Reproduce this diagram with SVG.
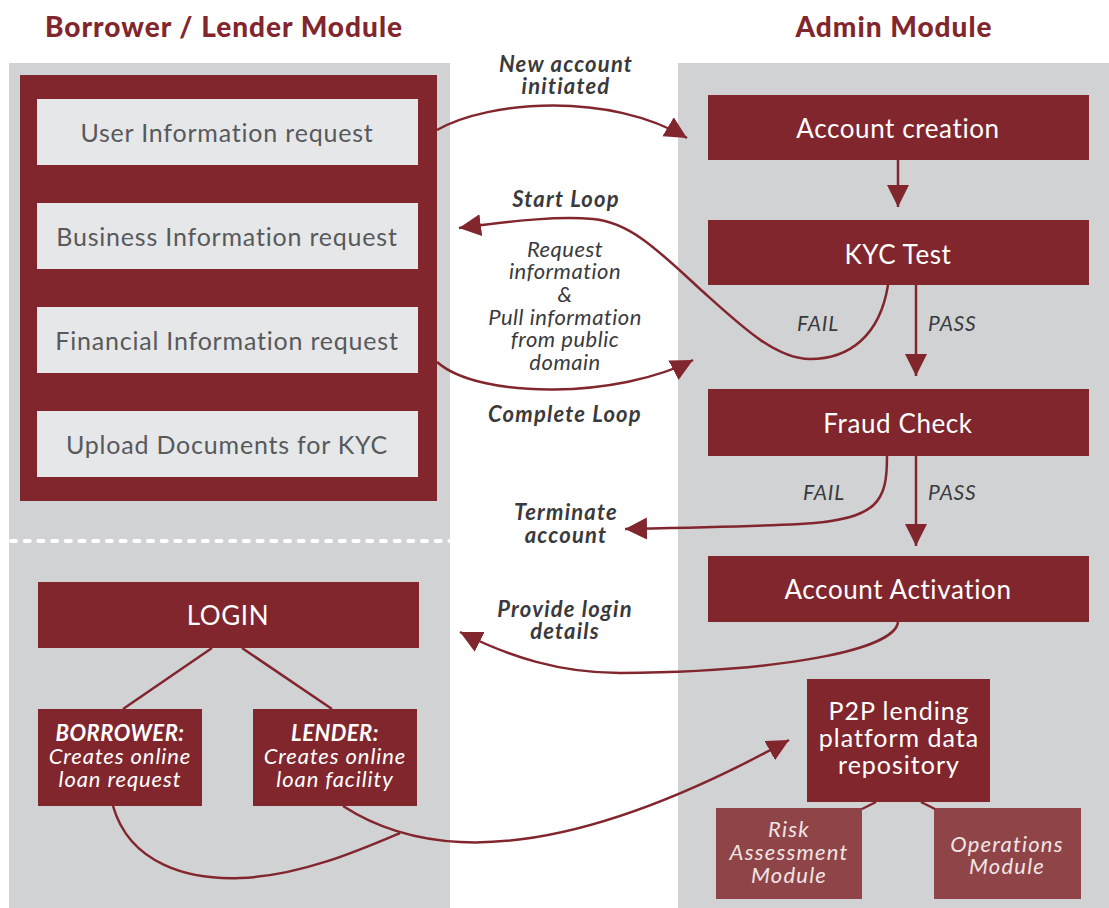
<svg xmlns="http://www.w3.org/2000/svg" width="1109" height="908" viewBox="0 0 1109 908">
<defs>
<style>
.panel{fill:#d1d2d4}
.red{fill:#82262e}
.light{fill:#e6e7e9}
.sub{fill:#8f4548}
.hdr{font-family:Lato,"Liberation Sans",sans-serif;font-weight:900;font-size:28px;letter-spacing:1px;fill:#82262e;text-anchor:middle}
.ltxt{font-family:Lato,"Liberation Sans",sans-serif;font-size:25px;letter-spacing:0.8px;fill:#58595b;text-anchor:middle}
.wtxt{font-family:Lato,"Liberation Sans",sans-serif;font-size:26px;letter-spacing:0.6px;fill:#ffffff;text-anchor:middle}
.ptxt{font-family:Lato,"Liberation Sans",sans-serif;font-size:25px;letter-spacing:1px;fill:#ffffff;text-anchor:middle}
.witl{font-family:Lato,"Liberation Sans",sans-serif;font-size:22px;letter-spacing:0.9px;font-style:italic;fill:#ffffff;text-anchor:middle}
.wbi{font-family:Lato,"Liberation Sans",sans-serif;font-size:22px;letter-spacing:0.5px;font-style:italic;font-weight:700;fill:#ffffff;text-anchor:middle}
.sitl{font-family:Lato,"Liberation Sans",sans-serif;font-size:22px;letter-spacing:1.2px;font-style:italic;fill:#f1e4e4;text-anchor:middle}
.lbl{font-family:Lato,"Liberation Sans",sans-serif;font-size:22px;letter-spacing:1.2px;font-style:italic;font-weight:700;fill:#3a3a3c;text-anchor:middle}
.itl{font-family:Lato,"Liberation Sans",sans-serif;font-size:22px;letter-spacing:0.5px;font-style:italic;fill:#3a3a3c;text-anchor:middle}
.fp{font-family:Lato,"Liberation Sans",sans-serif;font-size:21px;letter-spacing:0.8px;font-style:italic;fill:#3a3a3c}
.conn{fill:none;stroke:#82262e;stroke-width:2.5}
</style>
<marker id="ah" markerUnits="userSpaceOnUse" markerWidth="24" markerHeight="24" viewBox="0 0 24 24" refX="22" refY="11" orient="auto">
<path d="M0,0 L22,11 L0,22 z" fill="#82262e"/>
</marker>
</defs>
<rect width="1109" height="908" fill="#ffffff"/>
<g id="panels">
<rect class="panel" x="9" y="63" width="441" height="845"/>
<rect class="panel" x="678" y="63" width="431" height="845"/>
<line x1="11" y1="541" x2="450" y2="541" stroke="#ffffff" stroke-width="4" stroke-dasharray="5 8.7" stroke-linecap="round"/>
</g>
<g id="headers">
<text class="hdr" x="224" y="37">Borrower / Lender Module</text>
<text class="hdr" x="894" y="37">Admin Module</text>
</g>
<g id="borrower-lender-form">
<rect class="red" x="20" y="75" width="417" height="426"/>
</g>
<g id="user-info"><rect class="light" x="37" y="99" width="381" height="66"/><text class="ltxt" x="227" y="142">User Information request</text></g>
<g id="business-info"><rect class="light" x="37" y="203" width="381" height="66"/><text class="ltxt" x="227" y="246">Business Information request</text></g>
<g id="financial-info"><rect class="light" x="37" y="307" width="381" height="66"/><text class="ltxt" x="227" y="350">Financial Information request</text></g>
<g id="upload-docs"><rect class="light" x="37" y="411" width="381" height="66"/><text class="ltxt" x="227" y="454">Upload Documents for KYC</text></g>

<g id="account-creation"><rect class="red" x="708" y="95" width="381" height="65"/><text class="wtxt" x="898" y="138">Account creation</text></g>
<g id="kyc-test"><rect class="red" x="708" y="220" width="381" height="65"/><text class="wtxt" x="898" y="264">KYC Test</text></g>
<g id="fraud-check"><rect class="red" x="708" y="389" width="381" height="67"/><text class="wtxt" x="898" y="433">Fraud Check</text></g>
<g id="account-activation"><rect class="red" x="708" y="556" width="381" height="66"/><text class="wtxt" x="898" y="599">Account Activation</text></g>

<g id="login"><rect class="red" x="38" y="582" width="381" height="66"/><text class="wtxt" x="228" y="625">LOGIN</text></g>
<g id="borrower"><rect class="red" x="38" y="709" width="164" height="97"/>
<text class="wbi" x="120" y="741">BORROWER:</text>
<text class="witl" x="120" y="764">Creates online</text>
<text class="witl" x="120" y="787">loan request</text></g>
<g id="lender"><rect class="red" x="253" y="709" width="164" height="97"/>
<text class="wbi" x="335" y="741">LENDER:</text>
<text class="witl" x="335" y="764">Creates online</text>
<text class="witl" x="335" y="787">loan facility</text></g>

<g id="p2p-repository"><rect class="red" x="807" y="679" width="183" height="123"/>
<text class="ptxt" x="899" y="720">P2P lending</text>
<text class="ptxt" x="899" y="747">platform data</text>
<text class="ptxt" x="899" y="774">repository</text></g>
<g id="risk-assessment"><rect class="sub" x="716" y="808" width="146" height="91"/>
<text class="sitl" x="789" y="837">Risk</text>
<text class="sitl" x="789" y="860">Assessment</text>
<text class="sitl" x="789" y="883">Module</text></g>
<g id="operations"><rect class="sub" x="934" y="808" width="147" height="91"/>
<text class="sitl" x="1007" y="852">Operations</text>
<text class="sitl" x="1007" y="874">Module</text></g>

<g id="connectors">
<path class="conn" d="M898,160 L898,207" marker-end="url(#ah)"/>
<path class="conn" d="M916,285 L916,376" marker-end="url(#ah)"/>
<path class="conn" d="M916,456 L916,546" marker-end="url(#ah)"/>
<path class="conn" d="M437,130 C490,100 610,92 687,138" marker-end="url(#ah)"/>
<path class="conn" d="M888,285 C880,335 850,359 810,359 C775,359 740,325 700,289 C660,252 630,222 593,219 C560,216 520,220 459,228" marker-end="url(#ah)"/>
<path class="conn" d="M437,362 C480,400 620,398 693,360" marker-end="url(#ah)"/>
<path class="conn" d="M887,456 C887,500 880,520 800,524 C740,527 680,528 625,529" marker-end="url(#ah)"/>
<path class="conn" d="M898,622 C895,650 780,672 620,673 C560,673 510,657 460,632" marker-end="url(#ah)"/>
<path class="conn" d="M212,648 L123,709 M242,648 L332,709" stroke-width="2"/>
<path class="conn" d="M113,806 C130,865 190,880 240,878 C300,876 360,850 400,833"/>
<path class="conn" d="M343,806 C380,830 420,840 460,842 C560,847 680,800 789,740" marker-end="url(#ah)"/>
<path class="conn" d="M876,802 L862,809 M921,802 L935,809" stroke-width="2.5"/>
</g>
<g id="labels">
<text class="lbl" x="566" y="72">New account</text>
<text class="lbl" x="566" y="94">initiated</text>
<text class="lbl" x="566" y="207">Start Loop</text>
<text class="itl" x="565" y="257">Request</text>
<text class="itl" x="565" y="279">information</text>
<text class="itl" x="565" y="302">&amp;</text>
<text class="itl" x="565" y="325">Pull information</text>
<text class="itl" x="565" y="347">from public</text>
<text class="itl" x="565" y="370">domain</text>
<text class="lbl" x="565" y="422">Complete Loop</text>
<text class="lbl" x="566" y="520">Terminate</text>
<text class="lbl" x="566" y="543">account</text>
<text class="lbl" x="565" y="617">Provide login</text>
<text class="lbl" x="565" y="639">details</text>
<text class="fp" x="797" y="331">FAIL</text>
<text class="fp" x="928" y="331">PASS</text>
<text class="fp" x="803" y="500">FAIL</text>
<text class="fp" x="928" y="500">PASS</text>
</g>
</svg>
